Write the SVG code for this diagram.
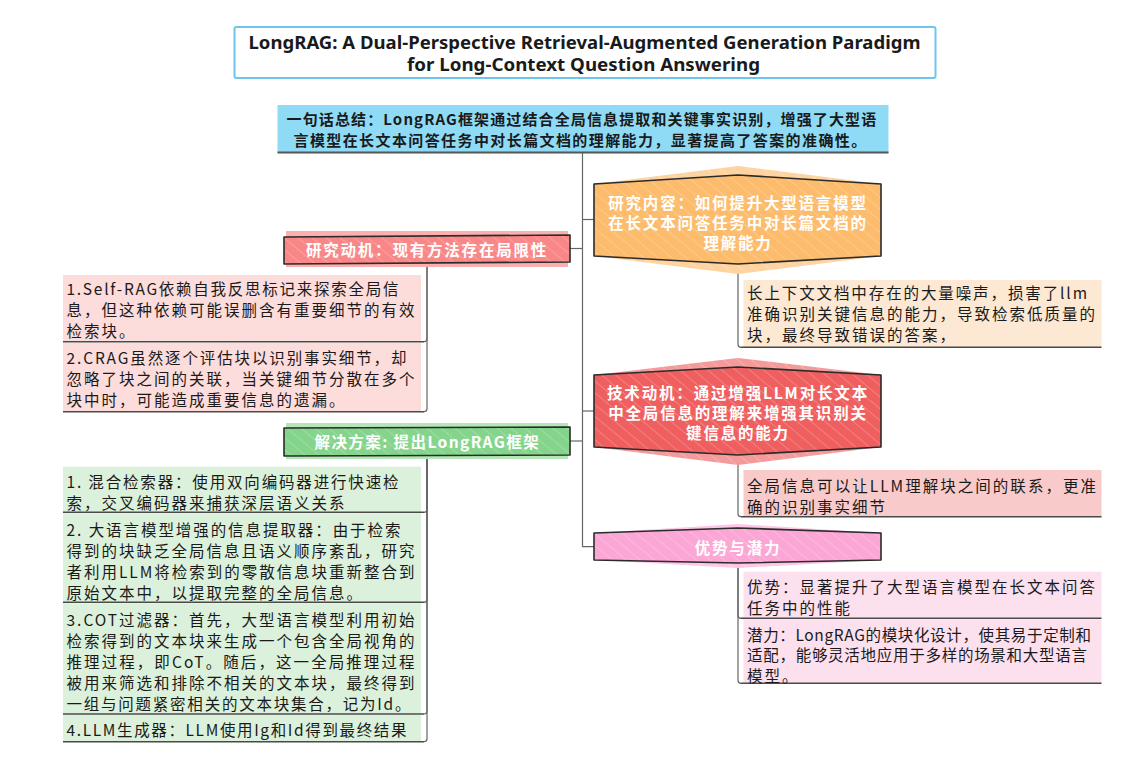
<svg xmlns="http://www.w3.org/2000/svg" width="1133" height="758" viewBox="0 0 1133 758">
<defs>
<pattern id="hatch" patternUnits="userSpaceOnUse" width="9" height="9" patternTransform="rotate(-50)">
<line x1="0" y1="0" x2="0" y2="9" stroke="#ffffff" stroke-opacity="0.35" stroke-width="1.2"/>
</pattern>
<style>
.lf{font-family:"Noto Sans CJK SC","Noto Sans",sans-serif;font-size:15.5px;letter-spacing:2px;fill:#1a1a1a;dominant-baseline:central}
.nd{font-family:"Noto Sans CJK SC","Noto Sans",sans-serif;font-size:15.5px;font-weight:bold;letter-spacing:1.8px;fill:#ffffff;text-anchor:middle;dominant-baseline:central}
.sm{font-family:"Noto Sans CJK SC","Noto Sans",sans-serif;font-size:15px;font-weight:bold;letter-spacing:1.3px;fill:#1a1a1a;dominant-baseline:central}
.tt{font-family:"Noto Sans","Noto Sans CJK SC",sans-serif;font-size:18px;font-weight:bold;fill:#1a1a1a;text-anchor:middle;dominant-baseline:central}
.ol{fill:none;stroke:#2b2b2b;stroke-width:1.6;stroke-linejoin:round}
.hat{fill:url(#hatch)}
.cn{fill:none;stroke:#666666;stroke-width:1.2}
.ul{fill:none;stroke:#4a4a4a;stroke-width:1.4}
</style>
</defs>
<rect width="1133" height="758" fill="#ffffff"/>

<g id="connectors">
<path class="cn" d="M582.5 153 V546.7 H594"/>
<path class="cn" d="M570 248.5 H582.5"/>
<path class="cn" d="M582.5 219.5 H594"/>
<path class="cn" d="M582.5 411 H594"/>
<path class="cn" d="M570 441 H582.5"/>
<path class="cn" d="M427 262 V338.7 Q427 341.7 424 341.7"/>
<path class="cn" d="M427 262 V408.7 Q427 411.7 424 411.7"/>
<path class="cn" d="M427 455 V509.3 Q427 512.3 424 512.3"/>
<path class="cn" d="M427 455 V599.3 Q427 602.3 424 602.3"/>
<path class="cn" d="M427 455 V711 Q427 714 424 714"/>
<path class="cn" d="M427 455 V738.7 Q427 741.7 424 741.7"/>
<path class="cn" d="M738 264 V344.3 Q738 347.3 741 347.3"/>
<path class="cn" d="M738 455 V513.7 Q738 516.7 741 516.7"/>
<path class="cn" d="M738 563 V615.3 Q738 618.3 741 618.3"/>
<path class="cn" d="M738 563 V680.3 Q738 683.3 741 683.3"/>
</g>

<g id="title">
<rect x="234.5" y="27" width="701" height="51" rx="2" fill="#ffffff" stroke="#6cc6ee" stroke-width="2"/>
<text class="tt" x="584.5" y="41.5" textLength="672" lengthAdjust="spacingAndGlyphs">LongRAG: A Dual-Perspective Retrieval-Augmented Generation Paradigm</text>
<text class="tt" x="583.5" y="63.5" textLength="353" lengthAdjust="spacingAndGlyphs">for Long-Context Question Answering</text>
</g>

<g id="summary">
<rect x="277.5" y="105" width="611" height="48" fill="#8fdbf6"/>
<line x1="277.5" y1="152.5" x2="888.5" y2="152.5" stroke="#555555" stroke-width="2"/>
<text class="sm" x="286.5" y="118.5" textLength="591" lengthAdjust="spacing">一句话总结：LongRAG框架通过结合全局信息提取和关键事实识别，增强了大型语</text>
<text class="sm" x="293.5" y="139" textLength="574" lengthAdjust="spacing">言模型在长文本问答任务中对长篇文档的理解能力，显著提高了答案的准确性。</text>
</g>

<g id="motivation">
<rect x="286" y="231" width="282" height="36" fill="#fbb0b0"/>
<path d="M284 237 L570 235 L570 262 L284 264 Z" fill="#f98787"/>
<path class="hat" d="M284 237 L570 235 L570 262 L284 264 Z"/>
<path class="ol" d="M284 237 L570 235 L570 262 L284 264 Z"/>
<text class="nd" x="427" y="248.5">研究动机：现有方法存在局限性</text>
</g>
<g id="motivation-leaf-1">
<rect x="63" y="275" width="358" height="66.7" fill="#fddcdc"/>
<line class="ul" x1="63" y1="341.7" x2="424" y2="341.7"/>
<text class="lf" x="66.5" y="287.5" textLength="334" lengthAdjust="spacing">1.Self-RAG依赖自我反思标记来探索全局信</text>
<text class="lf" x="66.5" y="308.5">息，但这种依赖可能误删含有重要细节的有效</text>
<text class="lf" x="66.5" y="329.5">检索块。</text>
</g>
<g id="motivation-leaf-2">
<rect x="63" y="343" width="358" height="68.7" fill="#fddcdc"/>
<line class="ul" x1="63" y1="411.7" x2="424" y2="411.7"/>
<text class="lf" x="66.5" y="356.5" textLength="342" lengthAdjust="spacing">2.CRAG虽然逐个评估块以识别事实细节，却</text>
<text class="lf" x="66.5" y="377.5">忽略了块之间的关联，当关键细节分散在多个</text>
<text class="lf" x="66.5" y="398.5">块中时，可能造成重要信息的遗漏。</text>
</g>

<g id="solution">
<rect x="286" y="423" width="282" height="36" fill="#b4e6b6"/>
<path d="M284 428 L570 427 L570 455 L284 456 Z" fill="#84d48b"/>
<path class="hat" d="M284 428 L570 427 L570 455 L284 456 Z"/>
<path class="ol" d="M284 428 L570 427 L570 455 L284 456 Z"/>
<text class="nd" x="427.5" y="441" textLength="226" lengthAdjust="spacing">解决方案: 提出LongRAG框架</text>
</g>
<g id="solution-leaf-1">
<rect x="63" y="466.7" width="358" height="45.6" fill="#dcf1db"/>
<line class="ul" x1="63" y1="512.3" x2="424" y2="512.3"/>
<text class="lf" x="66.5" y="480.5" textLength="334" lengthAdjust="spacing">1. 混合检索器：使用双向编码器进行快速检</text>
<text class="lf" x="66.5" y="501.5">索，交叉编码器来捕获深层语义关系</text>
</g>
<g id="solution-leaf-2">
<rect x="63" y="513.3" width="358" height="89" fill="#dcf1db"/>
<line class="ul" x1="63" y1="602.3" x2="424" y2="602.3"/>
<text class="lf" x="66.5" y="528.5" textLength="336" lengthAdjust="spacing">2. 大语言模型增强的信息提取器：由于检索</text>
<text class="lf" x="66.5" y="549.8">得到的块缺乏全局信息且语义顺序紊乱，研究</text>
<text class="lf" x="66.5" y="571" textLength="350" lengthAdjust="spacing">者利用LLM将检索到的零散信息块重新整合到</text>
<text class="lf" x="66.5" y="592">原始文本中，以提取完整的全局信息。</text>
</g>
<g id="solution-leaf-3">
<rect x="63" y="603.3" width="358" height="110.7" fill="#dcf1db"/>
<line class="ul" x1="63" y1="714" x2="424" y2="714"/>
<text class="lf" x="66.5" y="618.5" textLength="350" lengthAdjust="spacing">3.COT过滤器：首先，大型语言模型利用初始</text>
<text class="lf" x="66.5" y="639.7">检索得到的文本块来生成一个包含全局视角的</text>
<text class="lf" x="66.5" y="661" textLength="350" lengthAdjust="spacing">推理过程，即CoT。随后，这一全局推理过程</text>
<text class="lf" x="66.5" y="682">被用来筛选和排除不相关的文本块，最终得到</text>
<text class="lf" x="66.5" y="703" textLength="346" lengthAdjust="spacing">一组与问题紧密相关的文本块集合，记为Id。</text>
</g>
<g id="solution-leaf-4">
<rect x="63" y="715" width="358" height="26.7" fill="#dcf1db"/>
<line class="ul" x1="63" y1="741.7" x2="424" y2="741.7"/>
<text class="lf" x="66.5" y="729" textLength="342" lengthAdjust="spacing">4.LLM生成器：LLM使用Ig和Id得到最终结果</text>
</g>

<g id="content">
<polygon points="594,184 738,166 881,184 881,256 738,274 594,256" fill="#fed3a0"/>
<polygon points="594,184 738,175 881,184 881,256 738,264 594,256" fill="#fdbb6c"/>
<polygon class="hat" points="594,184 738,166 881,184 881,256 738,274 594,256"/>
<polygon class="ol" points="594,184 738,175 881,184 881,256 738,264 594,256"/>
<text class="nd" x="738" y="202">研究内容：如何提升大型语言模型</text>
<text class="nd" x="738" y="222">在长文本问答任务中对长篇文档的</text>
<text class="nd" x="738" y="242">理解能力</text>
</g>
<g id="content-leaf">
<rect x="743.5" y="280" width="358" height="67.3" fill="#fde8d3"/>
<line class="ul" x1="741" y1="347.3" x2="1101.5" y2="347.3"/>
<text class="lf" x="747" y="292" textLength="342" lengthAdjust="spacing">长上下文文档中存在的大量噪声，损害了llm</text>
<text class="lf" x="747" y="313">准确识别关键信息的能力，导致检索低质量的</text>
<text class="lf" x="747" y="334">块，最终导致错误的答案，</text>
</g>

<g id="tech">
<polygon points="594,375 738,358 881,375 881,447 738,465 594,447" fill="#f59a9a"/>
<polygon points="594,375 738,367 881,375 881,447 738,455 594,447" fill="#ef5f5f"/>
<polygon class="hat" points="594,375 738,358 881,375 881,447 738,465 594,447"/>
<polygon class="ol" points="594,375 738,367 881,375 881,447 738,455 594,447"/>
<text class="nd" x="738" y="392" textLength="262" lengthAdjust="spacing">技术动机：通过增强LLM对长文本</text>
<text class="nd" x="738" y="412">中全局信息的理解来增强其识别关</text>
<text class="nd" x="738" y="432">键信息的能力</text>
</g>
<g id="tech-leaf">
<rect x="743.5" y="470" width="358" height="46.7" fill="#f9caca"/>
<line class="ul" x1="741" y1="516.7" x2="1101.5" y2="516.7"/>
<text class="lf" x="747" y="484.5" textLength="351" lengthAdjust="spacing">全局信息可以让LLM理解块之间的联系，更准</text>
<text class="lf" x="747" y="505.5">确的识别事实细节</text>
</g>

<g id="advantage">
<polygon points="594,533 738,524 881,533 881,560 738,568 594,560" fill="#fdc6e4"/>
<polygon points="594,533 738,528 881,533 881,560 738,563 594,560" fill="#fca6d6"/>
<polygon class="hat" points="594,533 738,524 881,533 881,560 738,568 594,560"/>
<polygon class="ol" points="594,533 738,528 881,533 881,560 738,563 594,560"/>
<text class="nd" x="738" y="547">优势与潜力</text>
</g>
<g id="advantage-leaf-1">
<rect x="743.5" y="571.7" width="358" height="46.6" fill="#fde0ee"/>
<line class="ul" x1="741" y1="618.3" x2="1101.5" y2="618.3"/>
<text class="lf" x="747" y="586">优势：显著提升了大型语言模型在长文本问答</text>
<text class="lf" x="747" y="607">任务中的性能</text>
</g>
<g id="advantage-leaf-2">
<rect x="743.5" y="619.3" width="358" height="64" fill="#fde0ee"/>
<line class="ul" x1="741" y1="683.3" x2="1101.5" y2="683.3"/>
<text class="lf" x="747" y="633.5" textLength="346" lengthAdjust="spacing">潜力：LongRAG的模块化设计，使其易于定制和</text>
<text class="lf" x="747" y="654" textLength="342" lengthAdjust="spacing">适配，能够灵活地应用于多样的场景和大型语言</text>
<text class="lf" x="747" y="674.5">模型。</text>
</g>
</svg>
